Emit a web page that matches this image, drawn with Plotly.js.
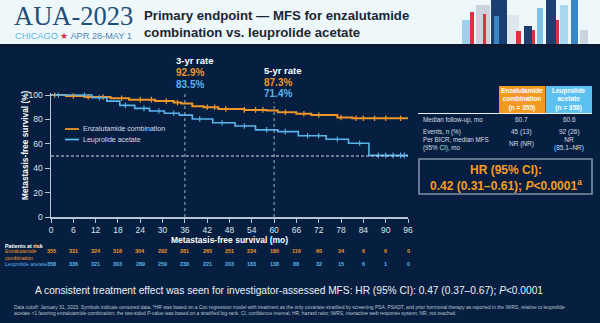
<!DOCTYPE html>
<html>
<head>
<meta charset="utf-8">
<script src="https://cdn.plot.ly/plotly-3.0.1.min.js"></script>
<style>html,body{margin:0;padding:0;background:#061f40;}#chart{width:600px;height:323px;}</style>
</head>
<body>
<div id="chart"></div>
<script>
// ---------- DATA ----------
const enzaMonths = [0, 4, 9, 16, 21, 28, 33, 35, 38, 41, 45, 52, 58, 61, 66, 70, 77, 81, 96];
const enzaMFS    = [100, 99.2, 98.3, 97.3, 96.2, 95.0, 93.8, 93.0, 90.8, 90.0, 88.6, 87.8, 87.2, 85.8, 84.6, 83.6, 81.6, 81.0, 81.0];
const leuMonths  = [0, 11, 15, 18.5, 22.5, 26.5, 30.5, 34.5, 38, 43.5, 49.5, 55, 61, 66.5, 74, 80, 85.5, 96];
const leuMFS     = [100, 97.8, 95.0, 91.5, 89.0, 86.9, 85.0, 83.5, 80.3, 77.3, 74.6, 71.4, 70.0, 66.6, 63.7, 60.4, 50.5, 50.5];
const enzaCensor = [1, 6, 10, 14, 19, 24, 27, 31, 34, 42, 44, 47, 52, 55, 57, 63, 68, 72, 78, 82, 84, 87, 90, 94];
const leuCensor  = [2, 9, 13, 20, 25, 29, 33, 40, 46, 52, 58, 63, 69, 72, 77, 83, 88, 90, 92, 94, 95];
const seriesNames = ['Enzalutamide combination', 'Leuprolide acetate'];
const riskMonths = [0, 6, 12, 18, 24, 30, 36, 42, 48, 54, 60, 66, 72, 78, 84, 90, 96];
const enzaRisk = [355, 331, 324, 318, 304, 292, 281, 265, 251, 234, 180, 116, 60, 24, 6, 6, 0];
const leuRisk  = [358, 336, 321, 303, 289, 259, 238, 221, 203, 183, 138, 88, 32, 15, 6, 1, 0];
const rateMonths = [36, 60];
const rateLabels = ['3-yr rate', '5-yr rate'];
const enzaRates = ['92.9%', '87.3%'];
const leuRates  = ['83.5%', '71.4%'];
const medianLine = 50;
const tableRows = ['Median follow-up, mo', 'Events, n (%)', 'Per BICR, median MFS<br>(95% CI), mo'];
const enzaTable = ['60.7', '45 (13)', 'NR (NR)'];
const leuTable  = ['60.6', '92 (26)', 'NR<br>(85.1–NR)'];

// ---------- HELPERS ----------
const W = 600, H = 323;
const px = x => x / W;
const py = y => 1 - y / H;
const F = 'Liberation Sans, Arial, sans-serif';
const ORANGE = '#f0952a', BLUE = '#5ab4ec';
function stepAt(ms, vs, t) { let v = vs[0]; for (let i = 0; i < ms.length; i++) if (ms[i] <= t) v = vs[i]; return v; }

const traces = [
  {x: enzaMonths, y: enzaMFS, name: seriesNames[0], mode: 'lines', line: {shape: 'hv', color: ORANGE, width: 2}},
  {x: leuMonths, y: leuMFS, name: seriesNames[1], mode: 'lines', line: {shape: 'hv', color: BLUE, width: 1.6}},
  {x: enzaCensor, y: enzaCensor.map(t => stepAt(enzaMonths, enzaMFS, t)), mode: 'markers', hoverinfo: 'skip',
   marker: {symbol: 'line-ns', size: 4, line: {color: ORANGE, width: 1.2}}},
  {x: leuCensor, y: leuCensor.map(t => stepAt(leuMonths, leuMFS, t)), mode: 'markers', hoverinfo: 'skip',
   marker: {symbol: 'line-ns', size: 4, line: {color: BLUE, width: 1.1}}}
];

const shapes = [];
const annotations = [];
function ann(x, y, text, size, color, o) {
  annotations.push(Object.assign({xref: 'paper', yref: 'paper', x: px(x), y: py(y), text: text, showarrow: false,
    xanchor: 'left', yanchor: 'middle', align: 'left', font: {family: F, size: size, color: color}}, o || {}));
}
function rect(x0, y0, x1, y1, fill, line) {
  shapes.push({type: 'rect', xref: 'paper', yref: 'paper', x0: px(x0), x1: px(x1), y0: py(y1), y1: py(y0),
    fillcolor: fill, line: line || {width: 0}, layer: 'below'});
}

// header band
rect(0, 0, 600, 44, '#eef7fa');
rect(0, 44, 600, 47, '#0b1a30');
// skyline decoration
const sky = [
  [462, 20, 470, '#9fd0ee'], [470, 12, 474, '#d8333f'], [476, 5, 490, '#c9d4de'], [483, 14, 486, '#d8333f'],
  [491, 0, 507, '#1b3f70'], [494, 16, 499, '#3a86c4'], [507, 15, 519, '#dfe7ee'], [516, 31, 521, '#d8333f'],
  [524, 26, 532, '#1b3f70'], [532, 30, 535, '#d8333f'], [537, 8, 543, '#7fc0e6'], [546, 0, 556, '#1b3f70'],
  [556, 20, 559, '#d8333f'], [560, 5, 568, '#a9d6f0'], [571, 0, 578, '#3a86c4'], [580, 30, 588, '#c9d4de']
];
sky.forEach(s => rect(s[0], s[1], s[2], 44, s[3]));

// logo + title
ann(12, 15.5, 'AUA-2023', 26.5, '#1f4f7c', {font: {family: 'Liberation Serif, serif', size: 26.5, color: '#1f4f7c'}});
ann(13, 35.5, 'CHICAGO <span style="color:#d7303c">★</span> <span style="color:#4f86b8">APR 28-MAY 1</span>', 9.2, '#5cb8e4');
ann(142, 24.5, '<b>Primary endpoint — MFS for enzalutamide<br>combination vs. leuprolide acetate</b>', 13.2, '#1b2633');

// rate lines and labels (data coords)
const rateTop = [91, 102];
rateMonths.forEach((m, i) => {
  shapes.push({type: 'line', xref: 'x', yref: 'paper', x0: m, x1: m, y0: py(217), y1: py(rateTop[i]),
    line: {color: '#9fb0c4', width: 1, dash: 'dot'}});
});
const rateX = [174, 262], rateY = [61, 70];
rateMonths.forEach((m, i) => {
  ann(rateX[i], rateY[i], '<b>' + rateLabels[i] + '</b>', 9.5, '#ffffff');
  ann(rateX[i], rateY[i] + 12, '<b>' + enzaRates[i] + '</b>', 10, ORANGE);
  ann(rateX[i], rateY[i] + 23.5, '<b>' + leuRates[i] + '</b>', 10, BLUE);
});
// 50% reference line
shapes.push({type: 'line', xref: 'x', yref: 'y', x0: 0, x1: 96, y0: medianLine, y1: medianLine,
  line: {color: '#d0dae6', width: 1, dash: '3px,2px'}});

// manual legend
[[129, ORANGE], [139.5, BLUE]].forEach((l, i) => {
  shapes.push({type: 'line', xref: 'paper', yref: 'paper', x0: px(65), x1: px(79), y0: py(l[0]), y1: py(l[0]),
    line: {color: l[1], width: 1.8}});
  ann(81, l[0], seriesNames[i], 7, '#d6dde6');
});

// y-axis title
ann(25, 145, '<b>Metastasis-free survival (%)</b>', 8.3, '#ffffff', {textangle: -90, xanchor: 'center'});

// patients at risk
ann(3, 245.5, '<b>Patients at risk</b>', 5.3, '#ffffff');
ann(3, 254, 'Enzalutamide<br>combination', 5.2, ORANGE);
ann(3, 263.5, 'Leuprolide acetate', 5.1, BLUE);
riskMonths.forEach((m, i) => {
  annotations.push({xref: 'x', yref: 'paper', x: m, y: py(250.5), text: '<b>' + enzaRisk[i] + '</b>', showarrow: false,
    xanchor: 'center', yanchor: 'middle', font: {family: F, size: 5.5, color: ORANGE}});
  annotations.push({xref: 'x', yref: 'paper', x: m, y: py(263.5), text: '<b>' + leuRisk[i] + '</b>', showarrow: false,
    xanchor: 'center', yanchor: 'middle', font: {family: F, size: 5.5, color: BLUE}});
});

// table
rect(499, 86, 545.5, 113, '#f39a1e');
rect(546, 86, 592, 113, '#5cc0f0');
ann(522, 99.5, '<b>Enzalutamide<br>combination<br>(n = 355)</b>', 6.5, '#ffffff', {xanchor: 'center', align: 'center'});
ann(569, 99.5, '<b>Leuprolide<br>acetate<br>(n = 358)</b>', 6.5, '#ffffff', {xanchor: 'center', align: 'center'});
shapes.push({type: 'line', xref: 'paper', yref: 'paper', x0: px(418), x1: px(592), y0: py(113.5), y1: py(113.5),
  line: {color: '#e8edf2', width: 1}});
const rowY = [119.5, 131.5, 143.5];
tableRows.forEach((r, i) => {
  ann(421, rowY[i], r, 6.3, '#d6dde6');
  ann(521, rowY[i], enzaTable[i], 6.5, '#d6dde6', {xanchor: 'center', align: 'center'});
  ann(569, rowY[i], leuTable[i], 6.5, '#d6dde6', {xanchor: 'center', align: 'center'});
});
// HR box
rect(419, 159, 592, 194, 'rgba(0,0,0,0)', {color: '#7f91a8', width: 1.6});
ann(505.5, 170, '<b>HR (95% CI):</b>', 12, '#f59d22', {xanchor: 'center', align: 'center'});
ann(505.5, 184.5, '<b>0.42 (0.31–0.61); <i>P</i>&lt;0.0001<sup>a</sup></b>', 12, '#f59d22', {xanchor: 'center', align: 'center'});

// bottom statement and footnote
ann(289, 290, 'A consistent treatment effect was seen for investigator-assessed MFS: HR (95% CI): 0.47 (0.37–0.67); <i>P</i>&lt;0.0001', 10.2, '#eef1f5', {xanchor: 'center', align: 'center'});
ann(12, 306.5, 'Data cutoff: January 31, 2023. Symbols indicate censored data. <sup>a</sup>HR was based on a Cox regression model with treatment as the only covariate stratified by screening PSA, PSADT, and prior hormonal therapy as reported in the IWRS, relative to leuprolide', 4.9, '#b9c4d2');
ann(12, 313, 'acetate &lt;1 favoring enzalutamide combination; the two-sided <i>P</i>-value was based on a stratified log-rank. CI, confidence interval; HR, hazard ratio; IWRS, interactive web response system; NR, not reached.', 4.9, '#b9c4d2');

const layout = {
  width: W, height: H, margin: {l: 0, r: 0, t: 0, b: 0},
  paper_bgcolor: '#061f40', plot_bgcolor: 'rgba(0,0,0,0)', showlegend: false,
  font: {family: F, color: '#dbe2ea'},
  xaxis: {domain: [px(51), px(408)], range: [0, 96], tick0: 0, dtick: 6, showgrid: false, zeroline: false,
    showline: true, linecolor: '#b9c5d3', linewidth: 1.5, ticks: 'outside', ticklen: 4, tickcolor: '#b9c5d3',
    tickfont: {family: F, size: 8.5, color: '#dbe2ea'}, fixedrange: true,
    title: {text: '<b>Metastasis-free survival (mo)</b>', font: {family: F, size: 8.5, color: '#ffffff'}, standoff: 0}},
  yaxis: {domain: [py(217), py(92.56)], range: [0, 102], tickvals: [0, 20, 40, 60, 80, 100], showgrid: false, zeroline: false,
    showline: true, linecolor: '#b9c5d3', linewidth: 1.5, ticks: 'outside', ticklen: 5, tickcolor: '#b9c5d3',
    tickfont: {family: F, size: 8.5, color: '#dbe2ea'}, fixedrange: true},
  shapes: shapes, annotations: annotations
};
Plotly.newPlot('chart', traces, layout, {displayModeBar: false, staticPlot: true});
</script>
</body>
</html>
